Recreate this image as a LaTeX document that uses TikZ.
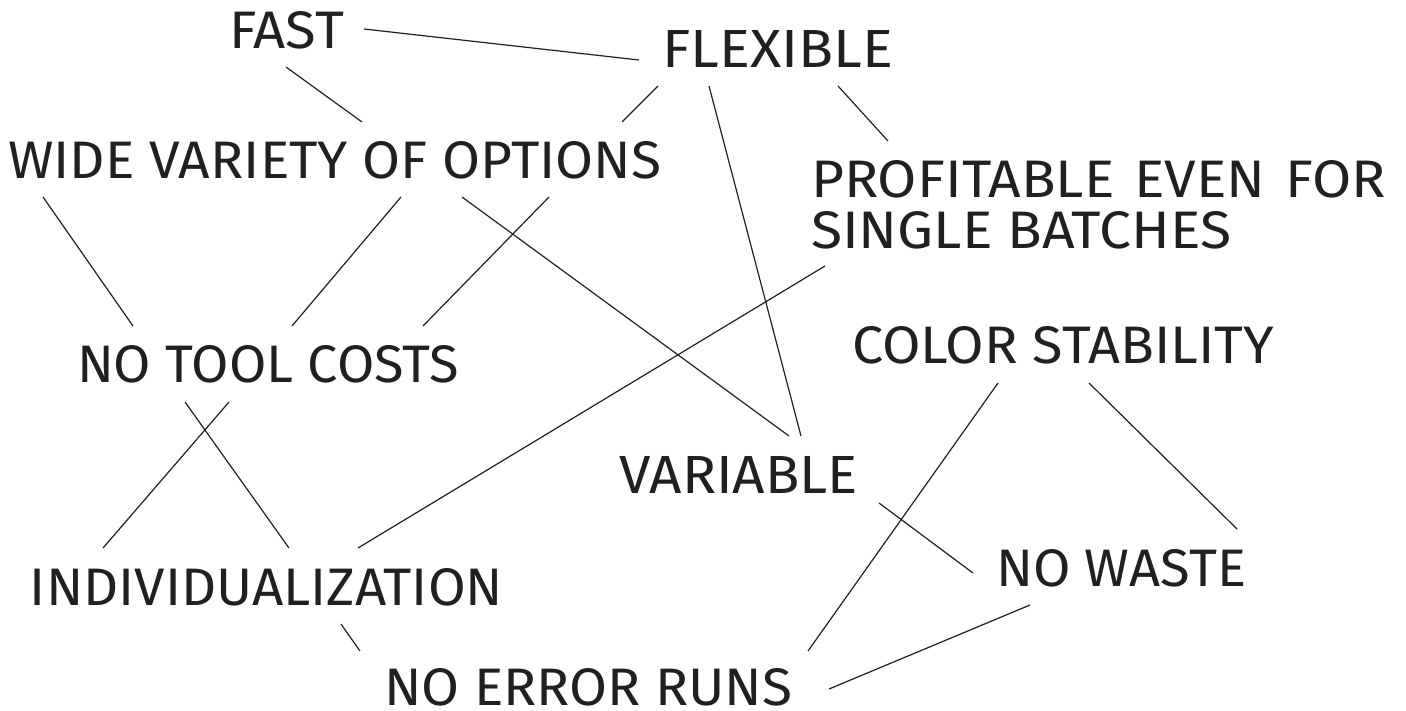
\documentclass[tikz,border=0pt]{standalone}
\usepackage{fontspec}
\setmainfont{Fira Sans}
\usepackage{graphicx}
\definecolor{ink}{HTML}{231F20}
\newcommand{\lbl}[2]{\resizebox{#1pt}{37pt}{#2}}
\begin{document}
\begin{tikzpicture}[x=1pt,y=-1pt,
  word/.style={anchor=base west,inner sep=0pt,outer sep=0pt,text=ink},
  link/.style={draw=ink,line width=1.2pt}]
\useasboundingbox (0,0) rectangle (1406,710);
% labels
\node[word] (fast)  at (229,48)  {\lbl{115}{FAST}};
\node[word] (flex)  at (662,67)  {\lbl{231}{FLEXIBLE}};
\node[word] (wide)  at (8,178)   {\lbl{653}{WIDE VARIETY OF OPTIONS}};
\node[word] (prof)  at (811,197) {\lbl{575}{PROFITABLE\hspace{0.35em}EVEN\hspace{0.35em}FOR}};
\node[word] (batch) at (811,248) {\lbl{420}{SINGLE BATCHES}};
\node[word] (tool)  at (77,382)  {\lbl{382}{NO TOOL COSTS}};
\node[word] (color) at (852,363) {\lbl{422}{COLOR STABILITY}};
\node[word] (var)   at (619,493) {\lbl{239}{VARIABLE}};
\node[word] (waste) at (996,586) {\lbl{250}{NO WASTE}};
\node[word] (indiv) at (30,605)  {\lbl{473}{INDIVIDUALIZATION}};
\node[word] (err)   at (384,705) {\lbl{408}{NO ERROR RUNS}};
% connector end points
\coordinate (fast-r)   at (364,29);
\coordinate (fast-b)   at (286,67);
\coordinate (flex-l)   at (639,60);
\coordinate (flex-bl)  at (658,86);
\coordinate (flex-bm)  at (709,86);
\coordinate (flex-br)  at (838,86);
\coordinate (wide-t1)  at (362,122);
\coordinate (wide-t2)  at (622,122);
\coordinate (wide-b1)  at (43,197);
\coordinate (wide-b2)  at (401,197);
\coordinate (wide-b3)  at (462,197);
\coordinate (wide-b4)  at (549,197);
\coordinate (prof-t)   at (888,141);
\coordinate (batch-b)  at (825,266);
\coordinate (tool-t1)  at (133,326);
\coordinate (tool-t2)  at (292,326);
\coordinate (tool-t3)  at (423,326);
\coordinate (tool-b1)  at (185,402);
\coordinate (tool-b2)  at (229,402);
\coordinate (color-b1) at (998,383);
\coordinate (color-b2) at (1089,383);
\coordinate (var-t1)   at (789,436);
\coordinate (var-t2)   at (801,436);
\coordinate (var-r)    at (879,503);
\coordinate (waste-l)  at (973,573);
\coordinate (waste-t)  at (1237,529);
\coordinate (waste-b)  at (1030,605);
\coordinate (indiv-t1) at (103,548);
\coordinate (indiv-t2) at (289,548);
\coordinate (indiv-t3) at (358,548);
\coordinate (indiv-b)  at (341,624);
\coordinate (err-t1)   at (360,651);
\coordinate (err-t2)   at (808,651);
\coordinate (err-r)    at (829,689);
% connectors
\draw[link] (fast-r) -- (flex-l);
\draw[link] (fast-b) -- (wide-t1);
\draw[link] (flex-bl) -- (wide-t2);
\draw[link] (flex-br) -- (prof-t);
\draw[link] (flex-bm) -- (var-t2);
\draw[link] (wide-b1) -- (tool-t1);
\draw[link] (wide-b2) -- (tool-t2);
\draw[link] (wide-b4) -- (tool-t3);
\draw[link] (wide-b3) -- (var-t1);
\draw[link] (batch-b) -- (indiv-t3);
\draw[link] (tool-b1) -- (indiv-t2);
\draw[link] (tool-b2) -- (indiv-t1);
\draw[link] (color-b1) -- (err-t2);
\draw[link] (color-b2) -- (waste-t);
\draw[link] (var-r) -- (waste-l);
\draw[link] (waste-b) -- (err-r);
\draw[link] (indiv-b) -- (err-t1);
\end{tikzpicture}
\end{document}
